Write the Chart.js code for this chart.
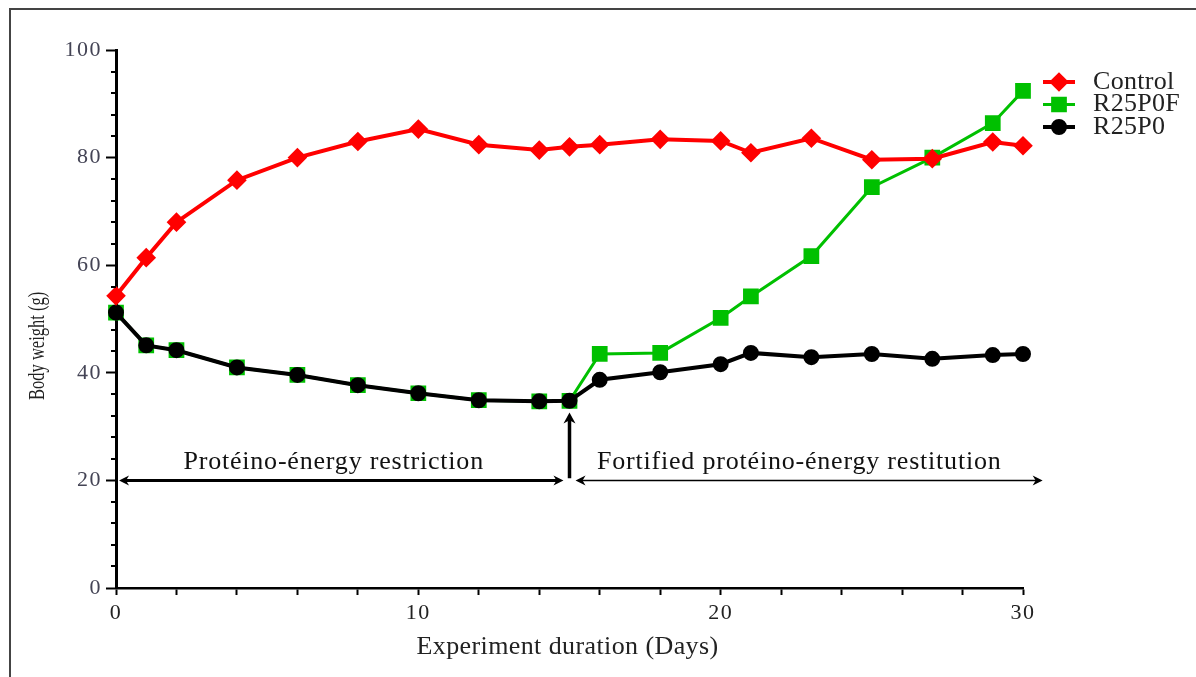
<!DOCTYPE html>
<html>
<head>
<meta charset="utf-8">
<style>
  html, body { margin: 0; padding: 0; background: #fff; }
  #wrap { width: 1196px; height: 677px; position: relative; }
</style>
</head>
<body>
<div id="wrap"><canvas id="myChart"></canvas></div>

<script src="https://cdn.jsdelivr.net/npm/chart.js"></script>

<script>
    // days of measurement
    const days = [0, 1, 2, 4, 6, 8, 10, 12, 14, 15, 16, 18, 20, 21, 23, 25, 27, 29, 30];
    // body weight (g)
    const control = [54.3, 61.4, 68.0, 75.8, 80.0, 83.0, 85.3, 82.4, 81.4, 82.0, 82.4, 83.4, 83.1, 80.9, 83.6, 79.6, 79.8, 82.9, 82.2];
    const r25p0f = [51.2, 45.1, 44.2, 41.0, 39.6, 37.7, 36.2, 34.9, 34.7, 34.8, 43.5, 43.7, 50.2, 54.2, 61.7, 74.5, 80.0, 86.4, 92.4];
    const r25p0 = [51.2, 45.1, 44.2, 41.0, 39.6, 37.7, 36.2, 34.9, 34.7, 34.8, 38.7, 40.1, 41.6, 43.7, 42.9, 43.5, 42.6, 43.3, 43.5];
    const seriesNames = ['Control', 'R25P0F', 'R25P0'];
    const phaseLabels = ['Protéino-énergy restriction', 'Fortified protéino-énergy restitution'];
    const xTitle = 'Experiment duration (Days)';
    const yTitle = 'Body weight (g)';
    const restitutionDay = 15;

    const serif = "'Liberation Serif', 'DejaVu Serif', serif";
    const ctx = document.getElementById('myChart');

    function toPoints(values) {
        return days.map((d, i) => ({ x: d, y: values[i] }));
    }

    function arrowHead(c, x, y, dir, len, half) {
        c.beginPath();
        if (dir === 'left') {
            c.moveTo(x, y); c.lineTo(x + len, y - half); c.lineTo(x + len * 0.7, y); c.lineTo(x + len, y + half);
        } else if (dir === 'right') {
            c.moveTo(x, y); c.lineTo(x - len, y - half); c.lineTo(x - len * 0.7, y); c.lineTo(x - len, y + half);
        } else {
            c.moveTo(x, y); c.lineTo(x - half, y + len); c.lineTo(x, y + len * 0.7); c.lineTo(x + half, y + len);
        }
        c.closePath();
        c.fill();
    }

    // white background + frame lines top / left, wider letters for tick labels
    const framePlugin = {
        id: 'frame',
        beforeDraw(chart) {
            const c = chart.ctx;
            c.save();
            c.fillStyle = '#fff';
            c.fillRect(0, 0, chart.width, chart.height);
            c.strokeStyle = '#444';
            c.lineWidth = 2;
            c.beginPath();
            c.moveTo(10, chart.height);
            c.lineTo(10, 9);
            c.lineTo(chart.width, 9);
            c.stroke();
            c.restore();
            c.letterSpacing = '1.5px';
        },
        afterDraw(chart) {
            chart.ctx.letterSpacing = '0px';
        }
    };

    // minor ticks on the y axis + axis titles
    const axisExtras = {
        id: 'axisExtras',
        afterDraw(chart) {
            const y = chart.scales.y;
            const c = chart.ctx;
            c.save();
            c.strokeStyle = '#000';
            c.lineWidth = 2;
            for (let v = 0; v <= 100; v += 4) {
                if (v % 20 === 0) continue;
                const py = Math.round(y.getPixelForValue(v));
                c.beginPath();
                c.moveTo(y.right - 5, py);
                c.lineTo(y.right, py);
                c.stroke();
            }
            c.fillStyle = '#222';
            c.textAlign = 'center';
            c.textBaseline = 'middle';
            c.letterSpacing = '0.4px';
            c.font = '26px ' + serif;
            c.fillText(xTitle, (chart.chartArea.left + chart.chartArea.right) / 2 - 2, 647);
            // vertical title, glyphs widened horizontally like the source
            c.translate(38, y.getPixelForValue(45));
            c.rotate(-Math.PI / 2);
            c.scale(1, 1.35);
            c.letterSpacing = '0px';
            c.font = '16.5px ' + serif;
            c.fillText(yTitle, 0, 0);
            c.restore();
        }
    };

    // phase arrows and texts
    const phases = {
        id: 'phases',
        afterDatasetsDraw(chart) {
            const xs = chart.scales.x, ys = chart.scales.y;
            const c = chart.ctx;
            const yA = ys.getPixelForValue(20);
            c.save();
            c.fillStyle = '#000';
            c.strokeStyle = '#000';

            // first phase: thick double arrow
            let x1 = xs.getPixelForValue(0.1), x2 = xs.getPixelForValue(14.8);
            c.lineWidth = 3;
            c.beginPath(); c.moveTo(x1 + 4, yA); c.lineTo(x2 - 4, yA); c.stroke();
            arrowHead(c, x1, yA, 'left', 10, 5);
            arrowHead(c, x2, yA, 'right', 10, 5);

            // second phase: thin double arrow
            x1 = xs.getPixelForValue(15.2); x2 = xs.getPixelForValue(30.65);
            c.lineWidth = 1.5;
            c.beginPath(); c.moveTo(x1 + 4, yA); c.lineTo(x2 - 4, yA); c.stroke();
            arrowHead(c, x1, yA, 'left', 10, 5);
            arrowHead(c, x2, yA, 'right', 10, 5);

            // vertical arrow at restitution start
            const xv = xs.getPixelForValue(restitutionDay);
            const yTop = ys.getPixelForValue(32.6);
            c.lineWidth = 3.5;
            c.beginPath(); c.moveTo(xv, ys.getPixelForValue(20.4)); c.lineTo(xv, yTop + 5); c.stroke();
            arrowHead(c, xv, yTop, 'up', 11, 6);

            c.font = '26px ' + serif;
            c.letterSpacing = '0.8px';
            c.fillStyle = '#111';
            c.textAlign = 'center';
            c.textBaseline = 'middle';
            const yT = ys.getPixelForValue(23.4);
            c.fillText(phaseLabels[0], xs.getPixelForValue(7.2), yT);
            c.fillText(phaseLabels[1], xs.getPixelForValue(22.6), yT);
            c.restore();
        }
    };

    // legend: line with marker, right of plot
    const sideLegend = {
        id: 'sideLegend',
        afterDraw(chart) {
            const c = chart.ctx;
            const area = chart.chartArea;
            c.save();
            chart.data.datasets.forEach((ds, i) => {
                const yy = area.top + 32 + i * 22.5;
                const xa = area.right + 20, xb = area.right + 52;
                c.strokeStyle = ds.borderColor;
                c.fillStyle = ds.pointBackgroundColor;
                c.lineWidth = ds.borderWidth;
                c.beginPath(); c.moveTo(xa, yy); c.lineTo(xb, yy); c.stroke();
                Chart.helpers.drawPoint(c, {
                    pointStyle: ds.pointStyle,
                    radius: ds.pointRadius,
                    rotation: 0,
                    borderWidth: 1
                }, (xa + xb) / 2, yy);
                c.fillStyle = '#222';
                c.font = '26px ' + serif;
                c.letterSpacing = '0.3px';
                c.textAlign = 'left';
                c.textBaseline = 'middle';
                c.fillText(ds.label, area.right + 70, yy);
            });
            c.restore();
        }
    };

    const data = {
        datasets: [{
            label: seriesNames[0],
            data: toPoints(control),
            borderColor: '#ff0000',
            backgroundColor: '#ff0000',
            pointBackgroundColor: '#ff0000',
            pointBorderColor: '#ff0000',
            borderWidth: 4,
            pointStyle: 'rectRot',
            pointRadius: 7,
            clip: false,
            order: 0
        }, {
            label: seriesNames[1],
            data: toPoints(r25p0f),
            borderColor: '#00c000',
            backgroundColor: '#00c000',
            pointBackgroundColor: '#00c000',
            pointBorderColor: '#00c000',
            borderWidth: 3,
            pointStyle: 'rect',
            pointRadius: 9,
            clip: false,
            order: 2
        }, {
            label: seriesNames[2],
            data: toPoints(r25p0),
            borderColor: '#000000',
            backgroundColor: '#000000',
            pointBackgroundColor: '#000000',
            pointBorderColor: '#000000',
            borderWidth: 4,
            pointStyle: 'circle',
            pointRadius: 6,
            clip: false,
            order: 1
        }]
    };

    const config = {
        type: 'line',
        data: data,
        options: {
            responsive: true,
            maintainAspectRatio: false,
            animation: false,
            layout: {
                padding: { left: 22, top: 50, right: 173, bottom: 0 }
            },
            elements: { line: { tension: 0 } },
            plugins: {
                legend: { display: false },
                tooltip: { enabled: false }
            },
            scales: {
                x: {
                    type: 'linear',
                    min: 0,
                    max: 30,
                    afterFit(scale) { scale.height = 89; },
                    ticks: {
                        stepSize: 2,
                        autoSkip: false,
                        maxRotation: 0,
                        padding: 5,
                        color: '#222',
                        font: { family: serif, size: 22 },
                        callback: v => (v % 10 === 0 ? v : '')
                    },
                    grid: {
                        drawOnChartArea: false,
                        tickLength: 7,
                        tickWidth: 2,
                        tickColor: '#000'
                    },
                    border: { color: '#000', width: 2.5 }
                },
                y: {
                    min: 0,
                    max: 100,
                    afterFit(scale) { scale.width = 94; },
                    ticks: {
                        stepSize: 20,
                        padding: 4,
                        color: '#444455',
                        font: { family: serif, size: 22 }
                    },
                    grid: {
                        drawOnChartArea: false,
                        tickLength: 10,
                        tickWidth: 2,
                        tickColor: '#000'
                    },
                    border: { color: '#000', width: 3 }
                }
            }
        },
        plugins: [framePlugin, axisExtras, phases, sideLegend]
    };

    new Chart(ctx, config);
</script>
</body>
</html>
